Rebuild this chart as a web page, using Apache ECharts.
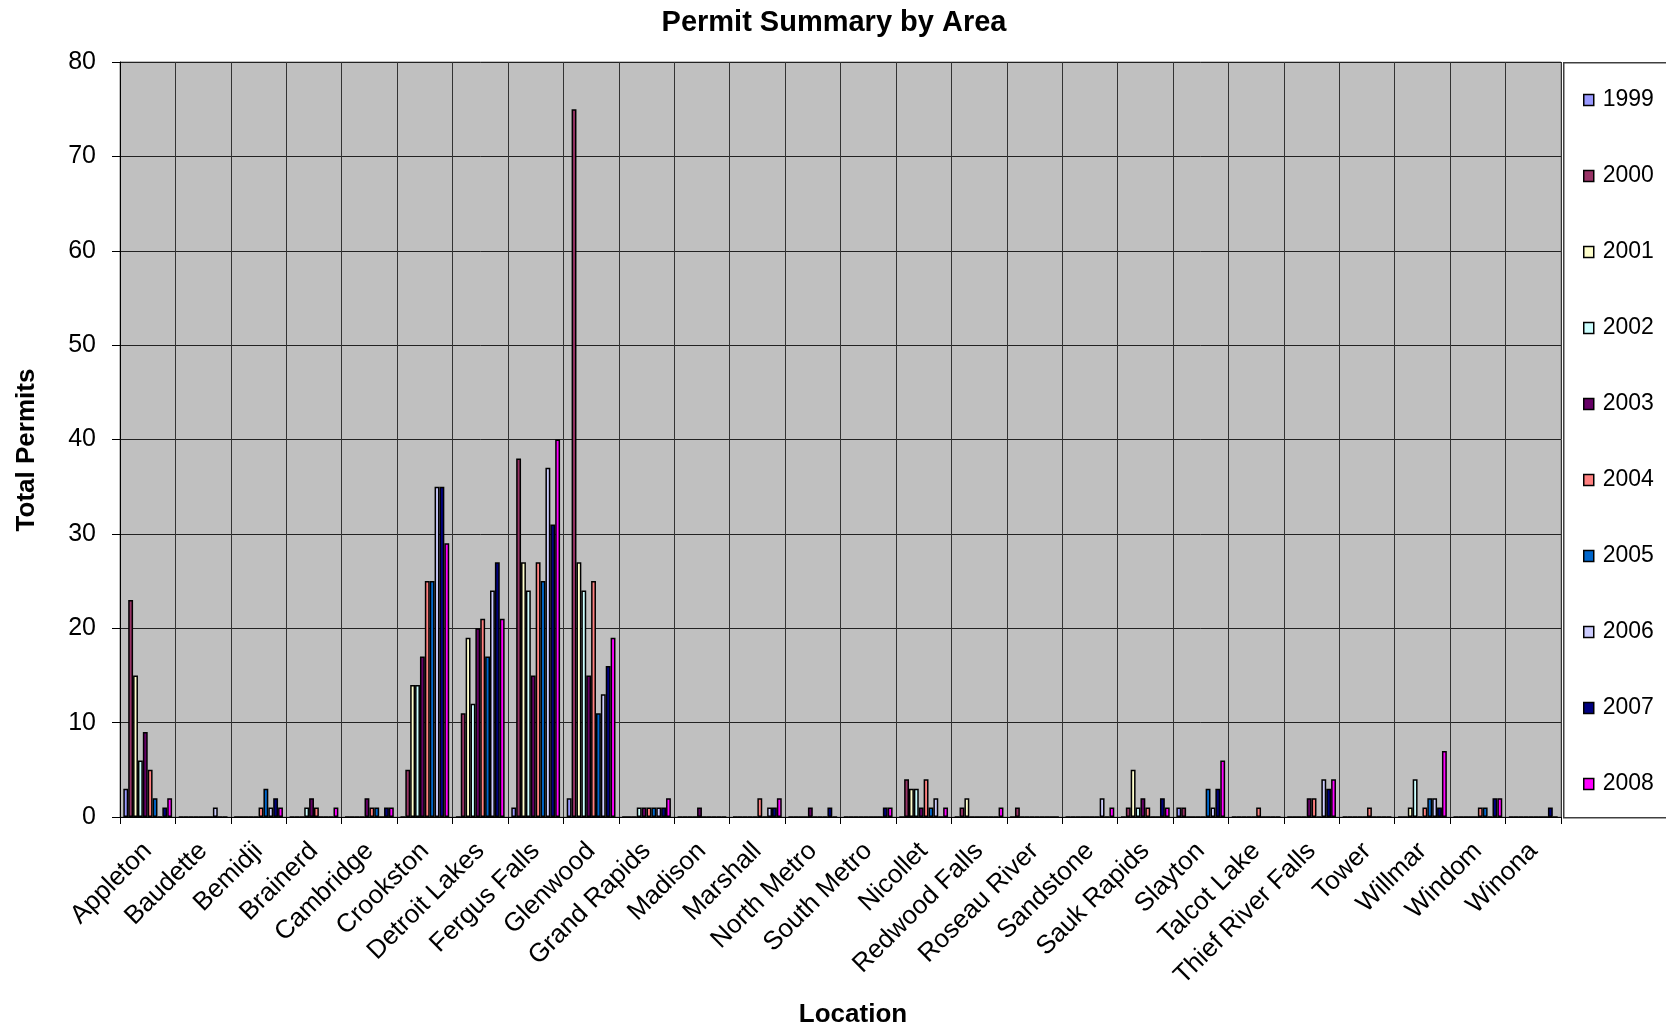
<!DOCTYPE html>
<html>
<head>
<meta charset="utf-8">
<script src="https://cdn.jsdelivr.net/npm/echarts@6/dist/echarts.min.js"></script>
<style>
html,body{margin:0;padding:0;background:#fff;}
#chart{width:1666px;height:1031px;}
</style>
</head>
<body>
<div id="chart"></div>
<script>
const categories = ['Appleton','Baudette','Bemidji','Brainerd','Cambridge','Crookston','Detroit Lakes','Fergus Falls','Glenwood','Grand Rapids','Madison','Marshall','North Metro','South Metro','Nicollet','Redwood Falls','Roseau River','Sandstone','Sauk Rapids','Slayton','Talcot Lake','Thief River Falls','Tower','Willmar','Windom','Winona'];
const years = ['1999','2000','2001','2002','2003','2004','2005','2006','2007','2008'];
const v1999 = [3,0,0,0,0,0,0,1,2,0,0,0,0,0,0,0,0,0,0,1,0,0,0,0,0,0];
const v2000 = [23,0,0,0,0,5,11,38,75,0,0,0,0,0,4,1,1,0,1,1,0,0,0,0,0,0];
const v2001 = [15,0,0,0,0,14,19,27,27,0,0,0,0,0,3,2,0,0,5,0,0,0,0,1,0,0];
const v2002 = [6,0,0,1,0,14,12,24,24,1,0,0,0,0,3,0,0,0,1,0,0,0,0,4,0,0];
const v2003 = [9,0,0,2,2,17,20,15,15,1,1,0,1,0,1,0,0,0,2,0,0,2,0,0,0,0];
const v2004 = [5,0,1,1,1,25,21,27,25,1,0,2,0,0,4,0,0,0,1,0,1,2,1,1,1,0];
const v2005 = [2,0,3,0,1,25,17,25,11,1,0,0,0,0,1,0,0,0,0,3,0,0,0,2,1,0];
const v2006 = [0,1,1,0,0,35,24,37,13,1,0,1,0,0,2,0,0,2,0,1,0,4,0,2,0,0];
const v2007 = [1,0,2,0,1,35,27,31,16,1,0,1,1,1,0,0,0,0,2,3,0,3,0,1,2,1];
const v2008 = [2,0,1,1,1,29,21,40,19,2,0,2,0,1,1,1,0,1,1,6,0,4,0,7,2,0];
const seriesValues = [v1999,v2000,v2001,v2002,v2003,v2004,v2005,v2006,v2007,v2008];
const colors = ['#9999FF','#993366','#FFFFCC','#CCFFFF','#660066','#FF8080','#0066CC','#CCCCFF','#000080','#FF00FF'];
const yTicks = [0,10,20,30,40,50,60,70,80];

const FONT = '"Liberation Sans", Arial, sans-serif';
const chart = echarts.init(document.getElementById('chart'), null, {renderer:'canvas'});

const series = years.map((y, i) => ({
  name: y,
  type: 'bar',
  data: seriesValues[i],
  barGap: '0%',
  barCategoryGap: '12%',
  itemStyle: {color: colors[i], borderColor: '#000', borderWidth: 1.5},
  emphasis: {disabled: true},
  animation: false
}));

chart.setOption({
  animation: false,
  textStyle: {fontFamily: FONT},
  grid: {left: 120, right: 105, top: 62, bottom: 214, show: true, backgroundColor: '#C0C0C0', borderColor: '#808080', borderWidth: 1, containLabel: false},
  legend: {
    orient: 'vertical',
    left: 1583, top: 88,
    padding: 0,
    itemWidth: 10, itemHeight: 11,
    itemGap: 52,
    icon: 'rect',
    data: years,
    itemStyle: {borderWidth: 1.5},
    textStyle: {fontFamily: FONT, fontSize: 23, color: '#000', lineHeight: 24, padding: [0,0,0,4]},
    selectedMode: false
  },
  xAxis: {
    type: 'category',
    data: categories,
    axisLine: {show: true, lineStyle: {color: '#000', width: 1}},
    axisTick: {show: true, length: 7, lineStyle: {color: '#000'}, interval: 0},
    axisLabel: {interval: 0, rotate: 45, fontSize: 26, color: '#000', fontFamily: FONT, margin: 30},
    splitLine: {show: true, interval: 0, lineStyle: {color: '#333', width: 1}}
  },
  yAxis: {
    type: 'value',
    min: yTicks[0], max: yTicks[yTicks.length-1], interval: 10,
    axisLine: {show: true, lineStyle: {color: '#000', width: 1}},
    axisTick: {show: true, length: 8, lineStyle: {color: '#000'}},
    axisLabel: {fontSize: 25, color: '#000', fontFamily: FONT, margin: 24},
    splitLine: {show: true, lineStyle: {color: '#222', width: 1}}
  },
  graphic: [
    {type: 'rect', left: 1563, top: 62, shape: {width: 110, height: 755}, style: {fill: '#fff', stroke: '#404040', lineWidth: 1.5}, z: -1, silent: true},
    {type: 'text', x: 834, y: 23, style: {text: 'Permit Summary by Area', font: 'bold 29px ' + FONT, fill: '#000', align: 'center', verticalAlign: 'middle'}, silent: true},
    {type: 'text', x: 27, y: 450, rotation: Math.PI/2, style: {text: 'Total Permits', font: 'bold 26px ' + FONT, fill: '#000', align: 'center', verticalAlign: 'middle'}, silent: true},
    {type: 'text', x: 853, y: 1015, style: {text: 'Location', font: 'bold 26px ' + FONT, fill: '#000', align: 'center', verticalAlign: 'middle'}, silent: true}
  ],
  series: series
});
</script>
</body>
</html>
